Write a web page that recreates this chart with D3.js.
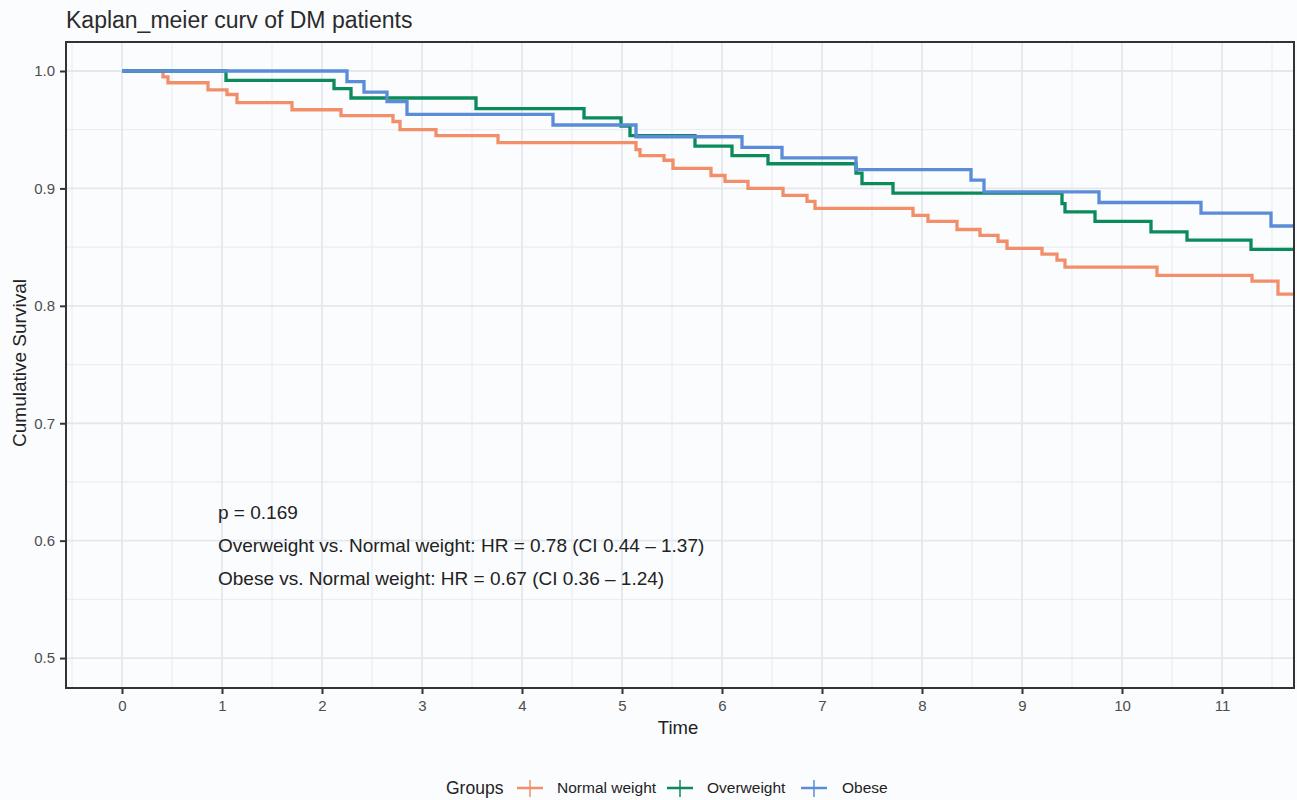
<!DOCTYPE html>
<html>
<head>
<meta charset="utf-8">
<script src="https://cdn.jsdelivr.net/npm/d3@7"></script>
<style>
    body { margin: 0; background: #fbfcfe; }
    text { font-family: "Liberation Sans", Arial, sans-serif; }
</style>
</head>
<body>
<svg id="chart" width="1297" height="800"></svg>
<script>
// survival steps: time of each drop and survival after it
var normal_time = [0, 0.41, 0.46, 0.86, 1.05, 1.15, 1.70, 2.19, 2.71, 2.78, 3.14, 3.76, 5.14, 5.18, 5.42, 5.51,
    5.89, 6.03, 6.26, 6.61, 6.85, 6.93, 7.91, 8.06, 8.35, 8.58, 8.76, 8.85, 9.20, 9.35, 9.43, 10.35, 11.30, 11.56, 12];
var normal_surv = [1.0, 0.995, 0.990, 0.984, 0.980, 0.973, 0.967, 0.962, 0.957, 0.950, 0.945, 0.939, 0.933, 0.928, 0.924, 0.917,
    0.911, 0.906, 0.900, 0.894, 0.889, 0.883, 0.877, 0.872, 0.865, 0.860, 0.855, 0.849, 0.844, 0.839, 0.833, 0.826, 0.821, 0.810, 0.810];

var over_time = [0, 1.04, 2.12, 2.29, 3.54, 4.62, 4.99, 5.08, 5.73, 6.10, 6.46, 7.34, 7.40, 7.71, 9.40, 9.43, 9.73, 10.29, 10.65, 11.29, 12];
var over_surv = [1.0, 0.992, 0.985, 0.977, 0.968, 0.960, 0.953, 0.945, 0.936, 0.928, 0.921, 0.913, 0.904, 0.896, 0.887, 0.880, 0.872, 0.863, 0.856, 0.848, 0.848];

var obese_time = [0, 2.25, 2.42, 2.65, 2.85, 4.31, 5.14, 6.20, 6.60, 7.34, 8.49, 8.62, 9.77, 10.79, 11.49, 12];
var obese_surv = [1.0, 0.991, 0.982, 0.974, 0.963, 0.954, 0.944, 0.935, 0.926, 0.916, 0.907, 0.897, 0.888, 0.879, 0.868, 0.868];

var group_names = ["Normal weight", "Overweight", "Obese"];
var group_colors = ["#f28e69", "#0b8a5c", "#5a8cd8"];

var x_ticks = [0, 1, 2, 3, 4, 5, 6, 7, 8, 9, 10, 11];
var y_ticks = [0.5, 0.6, 0.7, 0.8, 0.9, 1.0];
var annotation_lines = [
    "p = 0.169",
    "Overweight vs. Normal weight: HR = 0.78 (CI 0.44 \u2013 1.37)",
    "Obese vs. Normal weight: HR = 0.67 (CI 0.36 \u2013 1.24)"
];

var panel = {left: 66, right: 1294, top: 42, bottom: 688};
var svg = d3.select("#chart");

var x = d3.scaleLinear().domain([-0.56, 11.72]).range([panel.left, panel.right]);
var y = d3.scaleLinear().domain([0.4745, 1.0247]).range([panel.bottom, panel.top]);

svg.append("rect")
    .attr("width", 1297).attr("height", 800)
    .attr("fill", "#fbfcfe");

// grid
var grid = svg.append("g");
var x_minor = x_ticks.map(function (d) { return d - 0.5; }).concat([11.5]);
var y_minor = y_ticks.map(function (d) { return d + 0.05; }).slice(0, 5);
grid.selectAll(".xminor").data(x_minor).enter().append("line")
    .attr("x1", function (d) { return x(d); }).attr("x2", function (d) { return x(d); })
    .attr("y1", panel.top).attr("y2", panel.bottom)
    .attr("stroke", "#eaedf2").attr("stroke-width", 1.2);
grid.selectAll(".yminor").data(y_minor).enter().append("line")
    .attr("y1", function (d) { return y(d); }).attr("y2", function (d) { return y(d); })
    .attr("x1", panel.left).attr("x2", panel.right)
    .attr("stroke", "#eaedf2").attr("stroke-width", 1.2);
grid.selectAll(".xmajor").data(x_ticks).enter().append("line")
    .attr("x1", function (d) { return x(d); }).attr("x2", function (d) { return x(d); })
    .attr("y1", panel.top).attr("y2", panel.bottom)
    .attr("stroke", "#e4e8ee").attr("stroke-width", 1.8);
grid.selectAll(".ymajor").data(y_ticks).enter().append("line")
    .attr("y1", function (d) { return y(d); }).attr("y2", function (d) { return y(d); })
    .attr("x1", panel.left).attr("x2", panel.right)
    .attr("stroke", "#e4e8ee").attr("stroke-width", 1.8);

// curves
svg.append("clipPath").attr("id", "clip")
    .append("rect")
    .attr("x", panel.left).attr("y", panel.top)
    .attr("width", panel.right - panel.left).attr("height", panel.bottom - panel.top);

var series = [
    {time: normal_time, surv: normal_surv},
    {time: over_time, surv: over_surv},
    {time: obese_time, surv: obese_surv}
];
var line = d3.line()
    .x(function (d) { return x(d[0]); })
    .y(function (d) { return y(d[1]); })
    .curve(d3.curveStepAfter);

svg.append("g").attr("clip-path", "url(#clip)")
    .selectAll("path")
    .data(series)
    .enter()
    .append("path")
    .attr("d", function (d) { return line(d3.zip(d.time, d.surv)); })
    .attr("fill", "none")
    .attr("stroke", function (d, i) { return group_colors[i]; })
    .attr("stroke-width", 3.3);

// annotation
svg.append("g").selectAll("text")
    .data(annotation_lines)
    .enter()
    .append("text")
    .attr("x", 218)
    .attr("y", function (d, i) { return 519 + i * 33; })
    .style("font-size", "19px")
    .attr("fill", "#222")
    .text(function (d) { return d; });

// panel border
svg.append("rect")
    .attr("x", panel.left).attr("y", panel.top)
    .attr("width", panel.right - panel.left).attr("height", panel.bottom - panel.top)
    .attr("fill", "none").attr("stroke", "#333").attr("stroke-width", 2);

// axes
var x_axis = svg.append("g")
    .attr("transform", "translate(0," + panel.bottom + ")")
    .call(d3.axisBottom(x).tickValues(x_ticks).tickSize(6).tickPadding(6));
var y_axis = svg.append("g")
    .attr("transform", "translate(" + panel.left + ",0)")
    .call(d3.axisLeft(y).tickValues(y_ticks).tickFormat(d3.format(".1f")).tickSize(6).tickPadding(5));
[x_axis, y_axis].forEach(function (a) {
    a.select(".domain").remove();
    a.selectAll(".tick line").attr("stroke", "#333").attr("stroke-width", 2);
    a.selectAll(".tick text")
        .attr("fill", "#4d4d4d")
        .style("font-size", "15px")
        .style("font-family", "'Liberation Sans', Arial, sans-serif");
});

// titles
svg.append("text")
    .attr("x", 66).attr("y", 28)
    .style("font-size", "23px")
    .attr("fill", "#2b2b2b")
    .text("Kaplan_meier curv of DM patients");

svg.append("text")
    .attr("x", 678).attr("y", 734)
    .attr("text-anchor", "middle")
    .style("font-size", "18.5px")
    .attr("fill", "#222")
    .text("Time");

svg.append("text")
    .attr("transform", "translate(26,363) rotate(-90)")
    .attr("text-anchor", "middle")
    .style("font-size", "19px")
    .attr("fill", "#222")
    .text("Cumulative Survival");

// legend
var legend = svg.append("g");
legend.append("text")
    .attr("x", 446).attr("y", 794)
    .style("font-size", "17.5px")
    .attr("fill", "#222")
    .text("Groups");

var key_x = [530, 680, 814];
var label_x = [557, 707, 842];
var keys = legend.selectAll(".key")
    .data(group_names)
    .enter()
    .append("g");
keys.append("line")
    .attr("x1", function (d, i) { return key_x[i] - 13; })
    .attr("x2", function (d, i) { return key_x[i] + 13; })
    .attr("y1", 788).attr("y2", 788)
    .attr("stroke", function (d, i) { return group_colors[i]; })
    .attr("stroke-width", 2.5);
keys.append("line")
    .attr("x1", function (d, i) { return key_x[i]; })
    .attr("x2", function (d, i) { return key_x[i]; })
    .attr("y1", 780).attr("y2", 797)
    .attr("stroke", function (d, i) { return group_colors[i]; })
    .attr("stroke-width", 1.5);
keys.append("text")
    .attr("x", function (d, i) { return label_x[i]; })
    .attr("y", 793)
    .style("font-size", "15.5px")
    .attr("fill", "#222")
    .text(function (d) { return d; });
</script>
</body>
</html>
